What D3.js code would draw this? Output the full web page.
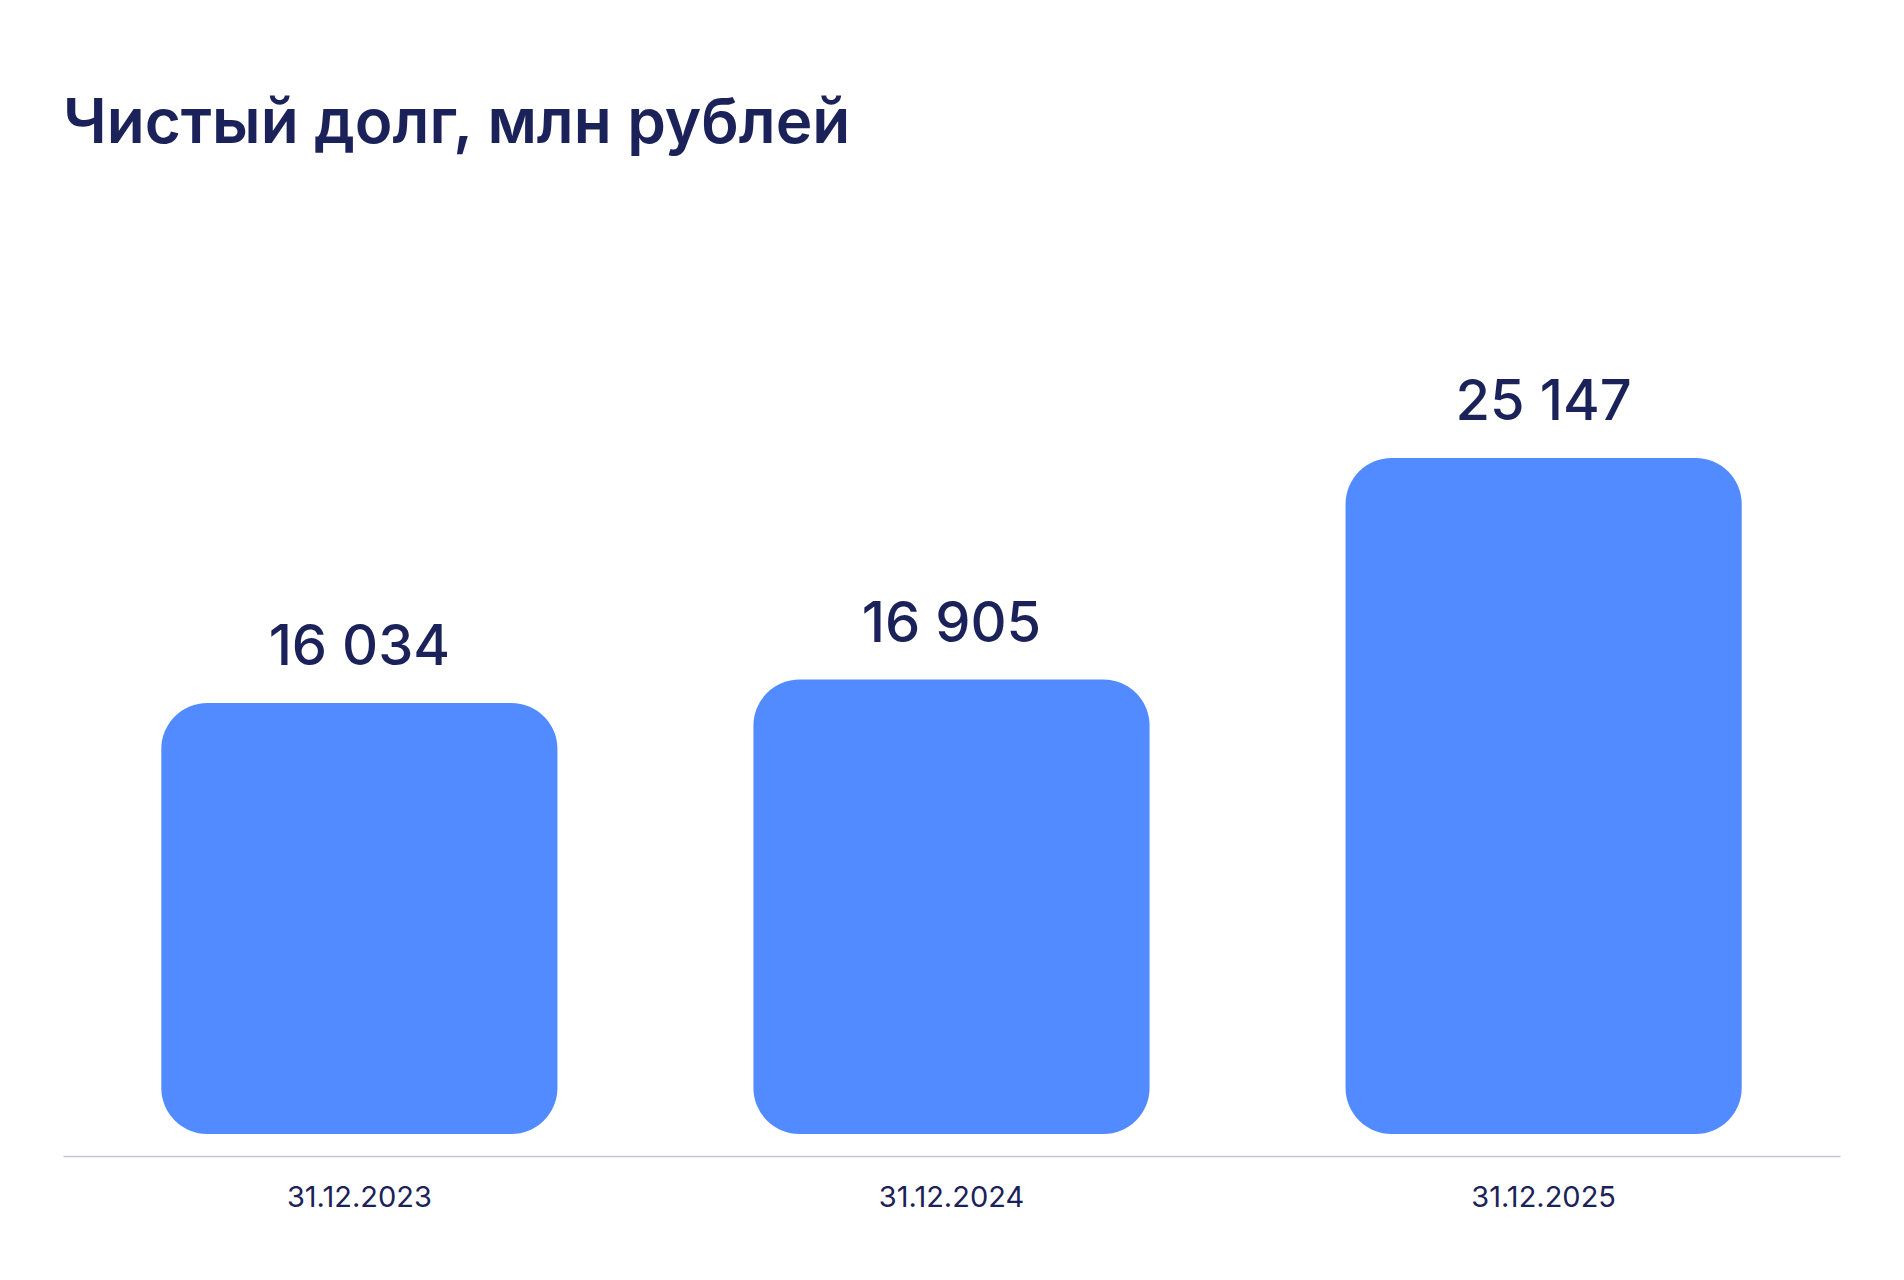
<!DOCTYPE html>
<html><head><meta charset="utf-8">
<script src="https://cdn.jsdelivr.net/npm/d3@7"></script>
<style>body{margin:0;background:#fff}</style>
</head><body>
<svg id="c" width="1904" height="1280"></svg>
<script>
const categories = ["31.12.2023", "31.12.2024", "31.12.2025"];
const values = [16034, 16905, 25147];
const labels = ["16 034", "16 905", "25 147"];
const title = "Чистый долг, млн рублей";

const svg = d3.select("#c");
const ink = "#1b2259", fill = "#528bff";
const font = "Inter, 'Noto Sans', sans-serif";

svg.append("text").attr("x", 63).attr("y", 143).text(title)
  .attr("fill", ink).attr("font-family", font).attr("font-size", 62).attr("font-weight", 600);

const x = d3.scaleBand().domain(categories).range([63, 1840]).paddingInner(0.331).paddingOuter(0.166);
const y = d3.scaleLinear().domain([0, 25147]).range([1134, 458]);

svg.selectAll("rect.bar").data(values).join("rect").attr("class", "bar")
  .attr("x", (d, i) => x(categories[i])).attr("width", x.bandwidth())
  .attr("y", d => y(d)).attr("height", d => y(0) - y(d))
  .attr("rx", 46).attr("fill", fill);

svg.selectAll("text.val").data(values).join("text").attr("class", "val")
  .attr("x", (d, i) => x(categories[i]) + x.bandwidth() / 2).attr("y", d => y(d) - 38)
  .attr("text-anchor", "middle").text((d, i) => labels[i])
  .attr("fill", ink).attr("font-family", font).attr("font-size", 56).attr("font-weight", 500);

const ax = svg.append("g").attr("transform", "translate(0,1156)")
  .call(d3.axisBottom(x).tickSize(0).tickPadding(30));
ax.select(".domain").attr("stroke", "#c5c7d6").attr("stroke-width", 1.5);
ax.selectAll("text").attr("fill", ink).attr("font-family", font).attr("font-size", 29);
</script>
</body></html>
